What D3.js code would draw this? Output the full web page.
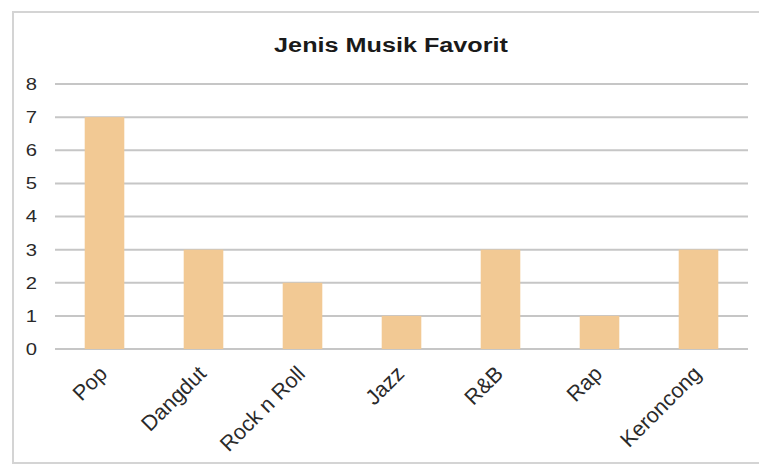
<!DOCTYPE html>
<html><head><meta charset="utf-8">
<script src="https://cdn.jsdelivr.net/npm/d3@7"></script>
<style>body{margin:0;background:#fff}svg{display:block}text{font-family:"Liberation Sans",Arial,sans-serif}</style>
</head><body>
<script>
const categories = ["Pop","Dangdut","Rock n Roll","Jazz","R&B","Rap","Keroncong"];
const values = [7,3,2,1,3,1,3];
const yTicks = [0,1,2,3,4,5,6,7,8];
const title = "Jenis Musik Favorit";

(function(){
const W=759,H=465, SX=1.19;
const svg=d3.select("body").append("svg").attr("width",W).attr("height",H);
svg.append("rect").attr("x",13).attr("y",12).attr("width",760).attr("height",451)
  .attr("fill","#fff").attr("stroke","#d4d4d4").attr("stroke-width",2);

const pL=55,pR=748,pT=84,pB=349;
const x=d3.scaleBand().domain(categories).range([pL,pR]).paddingInner(0.6).paddingOuter(0.3);
const y=d3.scaleLinear().domain([0,8]).range([pB,pT]);

svg.append("g").selectAll("line").data(yTicks).join("line")
  .attr("x1",pL).attr("x2",pR).attr("y1",d=>y(d)).attr("y2",d=>y(d))
  .attr("stroke","#c6c6c6").attr("stroke-width",2);

svg.append("g").selectAll("rect").data(categories).join("rect")
  .attr("x",d=>x(d)).attr("width",x.bandwidth())
  .attr("y",(d,i)=>y(values[i])).attr("height",(d,i)=>y(0)-y(values[i]))
  .attr("fill","#f2c994");

const ya=svg.append("g").attr("transform",`translate(${pL},0)`)
  .call(d3.axisLeft(y).tickValues(yTicks).tickSize(0).tickPadding(0));
ya.select(".domain").remove();
ya.selectAll("text").attr("font-size",17).attr("fill","#2a2a2a").attr("x",0)
  .attr("font-family","Liberation Sans, Arial, sans-serif")
  .attr("transform",`translate(-18,0) scale(${SX},1)`);

const xa=svg.append("g").attr("transform",`translate(0,${pB})`)
  .call(d3.axisBottom(x).tickSize(0).tickPadding(0));
xa.select(".domain").remove();
xa.selectAll("text").attr("font-size",21.5).attr("fill","#2a2a2a").attr("y",0)
  .attr("font-family","Liberation Sans, Arial, sans-serif")
  .attr("text-anchor","end").attr("dy",0)
  .attr("transform",`translate(4,26) rotate(-45)`);

svg.append("text").attr("x",0).attr("y",0).attr("text-anchor","middle")
  .attr("transform",`translate(391,52) scale(1.2,1)`)
  .attr("font-size",21).attr("font-weight","bold").attr("fill","#1a1a1a").text(title);
})();
</script>
</body></html>
